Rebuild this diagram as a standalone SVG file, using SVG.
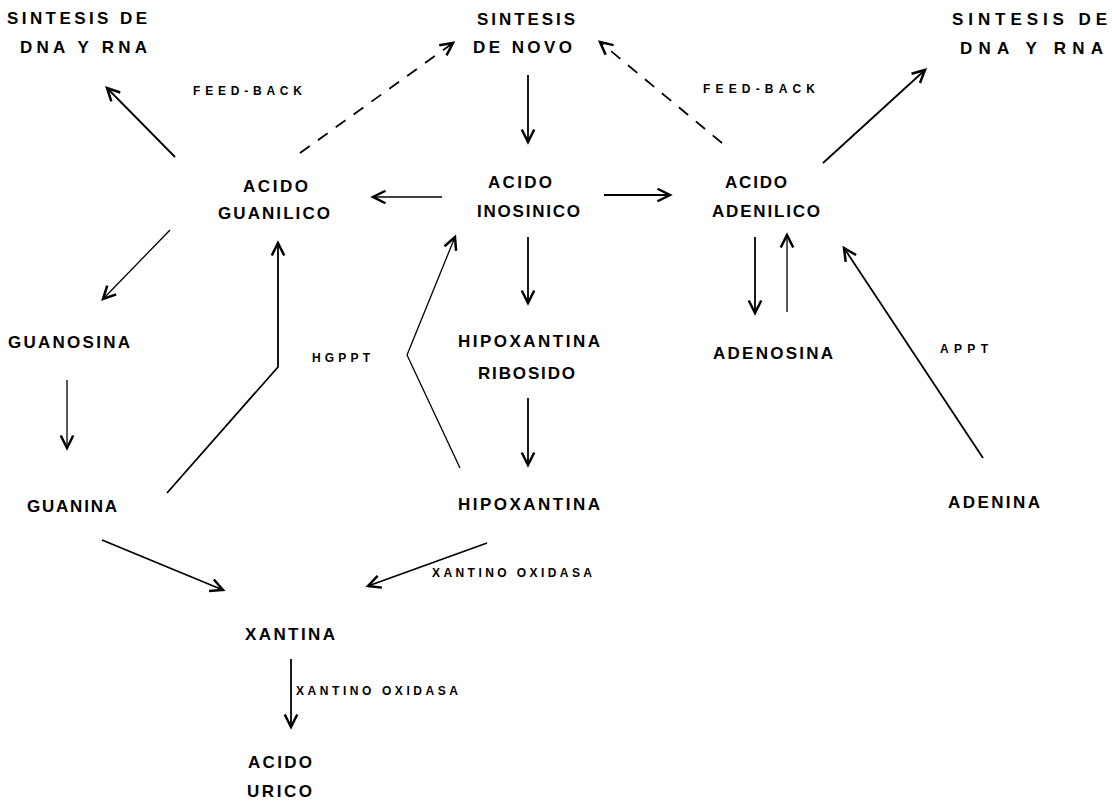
<svg xmlns="http://www.w3.org/2000/svg" width="1112" height="803" viewBox="0 0 1112 803">
<style>
text{font-family:"Liberation Sans","DejaVu Sans",sans-serif;fill:#000}
.n{font-size:17px;font-weight:bold}
.s{font-size:12px;font-weight:bold}
.c{fill:none;stroke:#000;stroke-width:1.8;marker-end:url(#ah)}
.t{stroke-width:1.3}
.d{stroke-dasharray:12 10}
</style>
<defs>
<marker id="ah" markerUnits="userSpaceOnUse" markerWidth="20" markerHeight="20" viewBox="-12 -8 14 16" refX="0" refY="0" orient="auto">
<path d="M-10,-5 L0,0 L-10,5" fill="none" stroke="#000" stroke-width="2"/>
</marker>
</defs>
<rect width="1112" height="803" fill="#fff"/>
<g id="connectors">
<line class="c" x1="175" y1="157" x2="107" y2="88"/>
<line class="c d" x1="300" y1="153" x2="453" y2="43"/>
<line class="c" x1="528" y1="75" x2="528" y2="142"/>
<line class="c d" x1="722" y1="143" x2="600" y2="42"/>
<line class="c" x1="823" y1="163" x2="925" y2="70"/>
<line class="c t" x1="442" y1="197" x2="373" y2="197"/>
<line class="c" x1="604" y1="195" x2="670" y2="195"/>
<line class="c t" x1="170" y1="230" x2="103" y2="299"/>
<line class="c t" x1="67" y1="380" x2="67" y2="448"/>
<polyline class="c" points="167,493 278,367 278,243"/>
<polyline class="c t" points="460,468 407,355 455,237"/>
<line class="c" x1="528" y1="237" x2="528" y2="303"/>
<line class="c" x1="528" y1="398" x2="528" y2="465"/>
<line class="c" x1="755" y1="237" x2="755" y2="313"/>
<line class="c t" x1="787" y1="312" x2="787" y2="235"/>
<line class="c" x1="983" y1="458" x2="844" y2="248"/>
<line class="c" x1="102" y1="540" x2="223" y2="590"/>
<line class="c" x1="487" y1="543" x2="368" y2="586"/>
<line class="c" x1="291" y1="659" x2="291" y2="727"/>
<text class="s" x="193" y="95" textLength="109" lengthAdjust="spacing">FEED-BACK</text>
<text class="s" x="703" y="93" textLength="112" lengthAdjust="spacing">FEED-BACK</text>
<text class="s" x="312" y="362" textLength="58" lengthAdjust="spacing">HGPPT</text>
<text class="s" x="940" y="353" textLength="48" lengthAdjust="spacing">APPT</text>
<text class="s" x="432" y="577" textLength="160" lengthAdjust="spacing">XANTINO OXIDASA</text>
<text class="s" x="296" y="695" textLength="162" lengthAdjust="spacing">XANTINO OXIDASA</text>
</g>
<g id="sintesis-dna-rna-left"><text class="n" x="7" y="24" textLength="140" lengthAdjust="spacing">SINTESIS DE</text><text class="n" x="20" y="53" textLength="127" lengthAdjust="spacing">DNA Y RNA</text></g>
<g id="sintesis-de-novo"><text class="n" x="477" y="25" textLength="98" lengthAdjust="spacing">SINTESIS</text><text class="n" x="473" y="53" textLength="99" lengthAdjust="spacing">DE NOVO</text></g>
<g id="sintesis-dna-rna-right"><text class="n" x="952" y="25" textLength="155" lengthAdjust="spacing">SINTESIS DE</text><text class="n" x="960" y="54" textLength="143" lengthAdjust="spacing">DNA Y RNA</text></g>
<g id="acido-guanilico"><text class="n" x="243" y="192" textLength="65" lengthAdjust="spacing">ACIDO</text><text class="n" x="218" y="219" textLength="112" lengthAdjust="spacing">GUANILICO</text></g>
<g id="acido-inosinico"><text class="n" x="488" y="188" textLength="64" lengthAdjust="spacing">ACIDO</text><text class="n" x="477" y="217" textLength="103" lengthAdjust="spacing">INOSINICO</text></g>
<g id="acido-adenilico"><text class="n" x="725" y="188" textLength="62" lengthAdjust="spacing">ACIDO</text><text class="n" x="712" y="217" textLength="108" lengthAdjust="spacing">ADENILICO</text></g>
<g id="guanosina"><text class="n" x="8" y="348" textLength="122" lengthAdjust="spacing">GUANOSINA</text></g>
<g id="guanina"><text class="n" x="27" y="512" textLength="90" lengthAdjust="spacing">GUANINA</text></g>
<g id="hipoxantina-ribosido"><text class="n" x="458" y="347" textLength="142" lengthAdjust="spacing">HIPOXANTINA</text><text class="n" x="478" y="379" textLength="97" lengthAdjust="spacing">RIBOSIDO</text></g>
<g id="hipoxantina"><text class="n" x="458" y="510" textLength="142" lengthAdjust="spacing">HIPOXANTINA</text></g>
<g id="adenosina"><text class="n" x="713" y="359" textLength="120" lengthAdjust="spacing">ADENOSINA</text></g>
<g id="adenina"><text class="n" x="948" y="508" textLength="92" lengthAdjust="spacing">ADENINA</text></g>
<g id="xantina"><text class="n" x="245" y="640" textLength="90" lengthAdjust="spacing">XANTINA</text></g>
<g id="acido-urico"><text class="n" x="248" y="768" textLength="64" lengthAdjust="spacing">ACIDO</text><text class="n" x="247" y="797" textLength="65" lengthAdjust="spacing">URICO</text></g>
</svg>
